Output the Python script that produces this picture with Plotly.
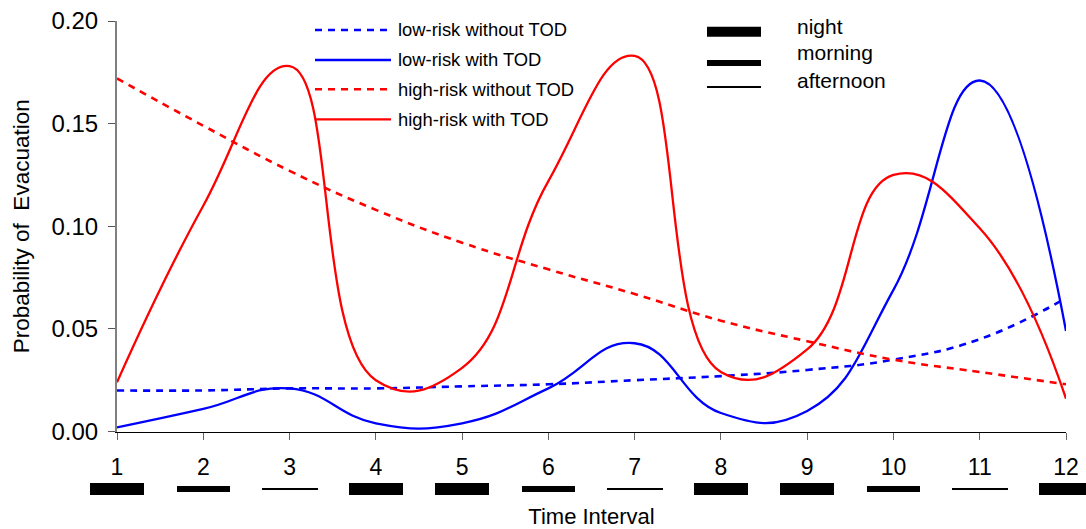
import plotly.graph_objects as go

# ---- data -------------------------------------------------------------
intervals = list(range(1, 13))
interval_labels = [str(i) for i in intervals]

low_without_tod = [0.020, 0.020, 0.021, 0.021, 0.022, 0.023, 0.025, 0.027, 0.030, 0.035, 0.045, 0.065]
low_with_tod = [0.002, 0.011, 0.021, 0.004, 0.004, 0.021, 0.043, 0.009, 0.010, 0.069, 0.171, 0.049]
high_without_tod = [0.172, 0.149, 0.127, 0.108, 0.092, 0.079, 0.067, 0.054, 0.044, 0.035, 0.029, 0.023]
high_with_tod = [0.024, 0.110, 0.178, 0.025, 0.031, 0.122, 0.183, 0.029, 0.040, 0.125, 0.099, 0.016]

period_of_day = ["night", "morning", "afternoon", "night", "night", "morning",
                 "afternoon", "night", "night", "morning", "afternoon", "night"]
period_names = ["night", "morning", "afternoon"]

y_ticks = [0.00, 0.05, 0.10, 0.15, 0.20]

# ---- styling ----------------------------------------------------------
W, H = 1086, 529
FONT = "Liberation Sans, Arial, sans-serif"
BLUE, RED = "#0000FF", "#FF0000"
DOT = "7px,6px"

# pixel frame of the main plot area
PX_L, PX_R = 117, 1066
PX_T, PX_B = 21, 431.5

# thickness (px) and width (x units) of the period-of-day strips
strip_thickness = {"night": 12, "morning": 6, "afternoon": 2}
strip_width = {"night": 0.62, "morning": 0.62, "afternoon": 0.65}
STRIP_Y = 488.7  # vertical centre of the strip row (px)

series = [
    ("low-risk without TOD", low_without_tod, BLUE, DOT, 2.6),
    ("low-risk with TOD", low_with_tod, BLUE, "solid", 2.3),
    ("high-risk without TOD", high_without_tod, RED, DOT, 2.6),
    ("high-risk with TOD", high_with_tod, RED, "solid", 2.3),
]

fig = go.Figure()

for name, vals, color, dash, width in series:
    fig.add_trace(go.Scatter(
        x=intervals, y=vals, name=name, mode="lines",
        line=dict(color=color, width=width, dash=dash, shape="spline", smoothing=1.3),
        xaxis="x", yaxis="y", showlegend=False,
    ))

# period-of-day strips under the axis
thick = [strip_thickness[p] for p in period_of_day]
fig.add_trace(go.Bar(
    x=intervals, y=thick, base=[-t / 2 for t in thick],
    width=[strip_width[p] for p in period_of_day],
    marker=dict(color="black", line=dict(width=0)),
    xaxis="x2", yaxis="y2", showlegend=False, hoverinfo="skip",
))

# secondary x range uses the same px-per-unit scale but spans the full width
ppu = (PX_R - PX_L) / (intervals[-1] - intervals[0])
x2_range = [intervals[0] - PX_L / ppu, intervals[-1] + (W - PX_R) / ppu]


def fy(px):
    return 1 - px / H


def fx(px):
    return px / W


fig.update_layout(
    width=W, height=H,
    margin=dict(l=0, r=0, t=0, b=0),
    paper_bgcolor="white", plot_bgcolor="rgba(0,0,0,0)",
    font=dict(family=FONT, color="black"),
    xaxis=dict(
        domain=[fx(PX_L), fx(PX_R)], range=[intervals[0], intervals[-1]],
        anchor="y", tickvals=intervals, ticktext=interval_labels,
        ticks="outside", ticklen=7, tickcolor="#666666", tickwidth=1,
        showline=True, linecolor="black", linewidth=1,
        showgrid=False, zeroline=False, automargin=False,
        tickfont=dict(size=23), ticklabelstandoff=8,
        title=dict(text="Time Interval", font=dict(size=22), standoff=36),
    ),
    yaxis=dict(
        domain=[fy(PX_B), fy(PX_T)], range=[0, 0.2], anchor="x",
        tickvals=y_ticks, tickformat=".2f",
        ticks="outside", ticklen=7, tickcolor="#555555", tickwidth=1,
        showline=True, linecolor="#808080", linewidth=2,
        showgrid=False, zeroline=False, automargin=False,
        tickfont=dict(size=24), ticklabelstandoff=5,
        title=dict(text="Probability of\u00a0 Evacuation", font=dict(size=22.5), standoff=16),
    ),
    xaxis2=dict(domain=[0, 1], range=x2_range, anchor="y2", visible=False),
    yaxis2=dict(domain=[fy(STRIP_Y + 20), fy(STRIP_Y - 20)], range=[-20, 20],
                anchor="x2", visible=False),
    bargap=0,
)

# legend for the four curves
legend_rows_px = [30, 60, 89.3, 119.3]
shapes, annotations = [], []
for (name, vals, color, dash, width), ypx in zip(series, legend_rows_px):
    shapes.append(dict(type="line", xref="paper", yref="paper",
                       x0=fx(315), x1=fx(391), y0=fy(ypx), y1=fy(ypx),
                       line=dict(color=color, width=width, dash=dash)))
    annotations.append(dict(xref="paper", yref="paper", x=fx(396), y=fy(ypx),
                            xanchor="left", yanchor="middle", showarrow=False,
                            text=name, font=dict(size=18.4)))

# legend for the period-of-day strips
key_bar_px = {"night": (31.7, 10), "morning": (63, 6), "afternoon": (87, 2)}
key_text_px = {"night": 26, "morning": 53, "afternoon": 80}
for p in period_names:
    yc, h = key_bar_px[p]
    shapes.append(dict(type="rect", xref="paper", yref="paper",
                       x0=fx(707), x1=fx(761), y0=fy(yc + h / 2), y1=fy(yc - h / 2),
                       fillcolor="black", line=dict(width=0)))
    annotations.append(dict(xref="paper", yref="paper", x=fx(795), y=fy(key_text_px[p]),
                            xanchor="left", yanchor="middle", showarrow=False,
                            text=p, font=dict(size=21)))

fig.update_layout(shapes=shapes, annotations=annotations)

fig.write_html("out.html")
